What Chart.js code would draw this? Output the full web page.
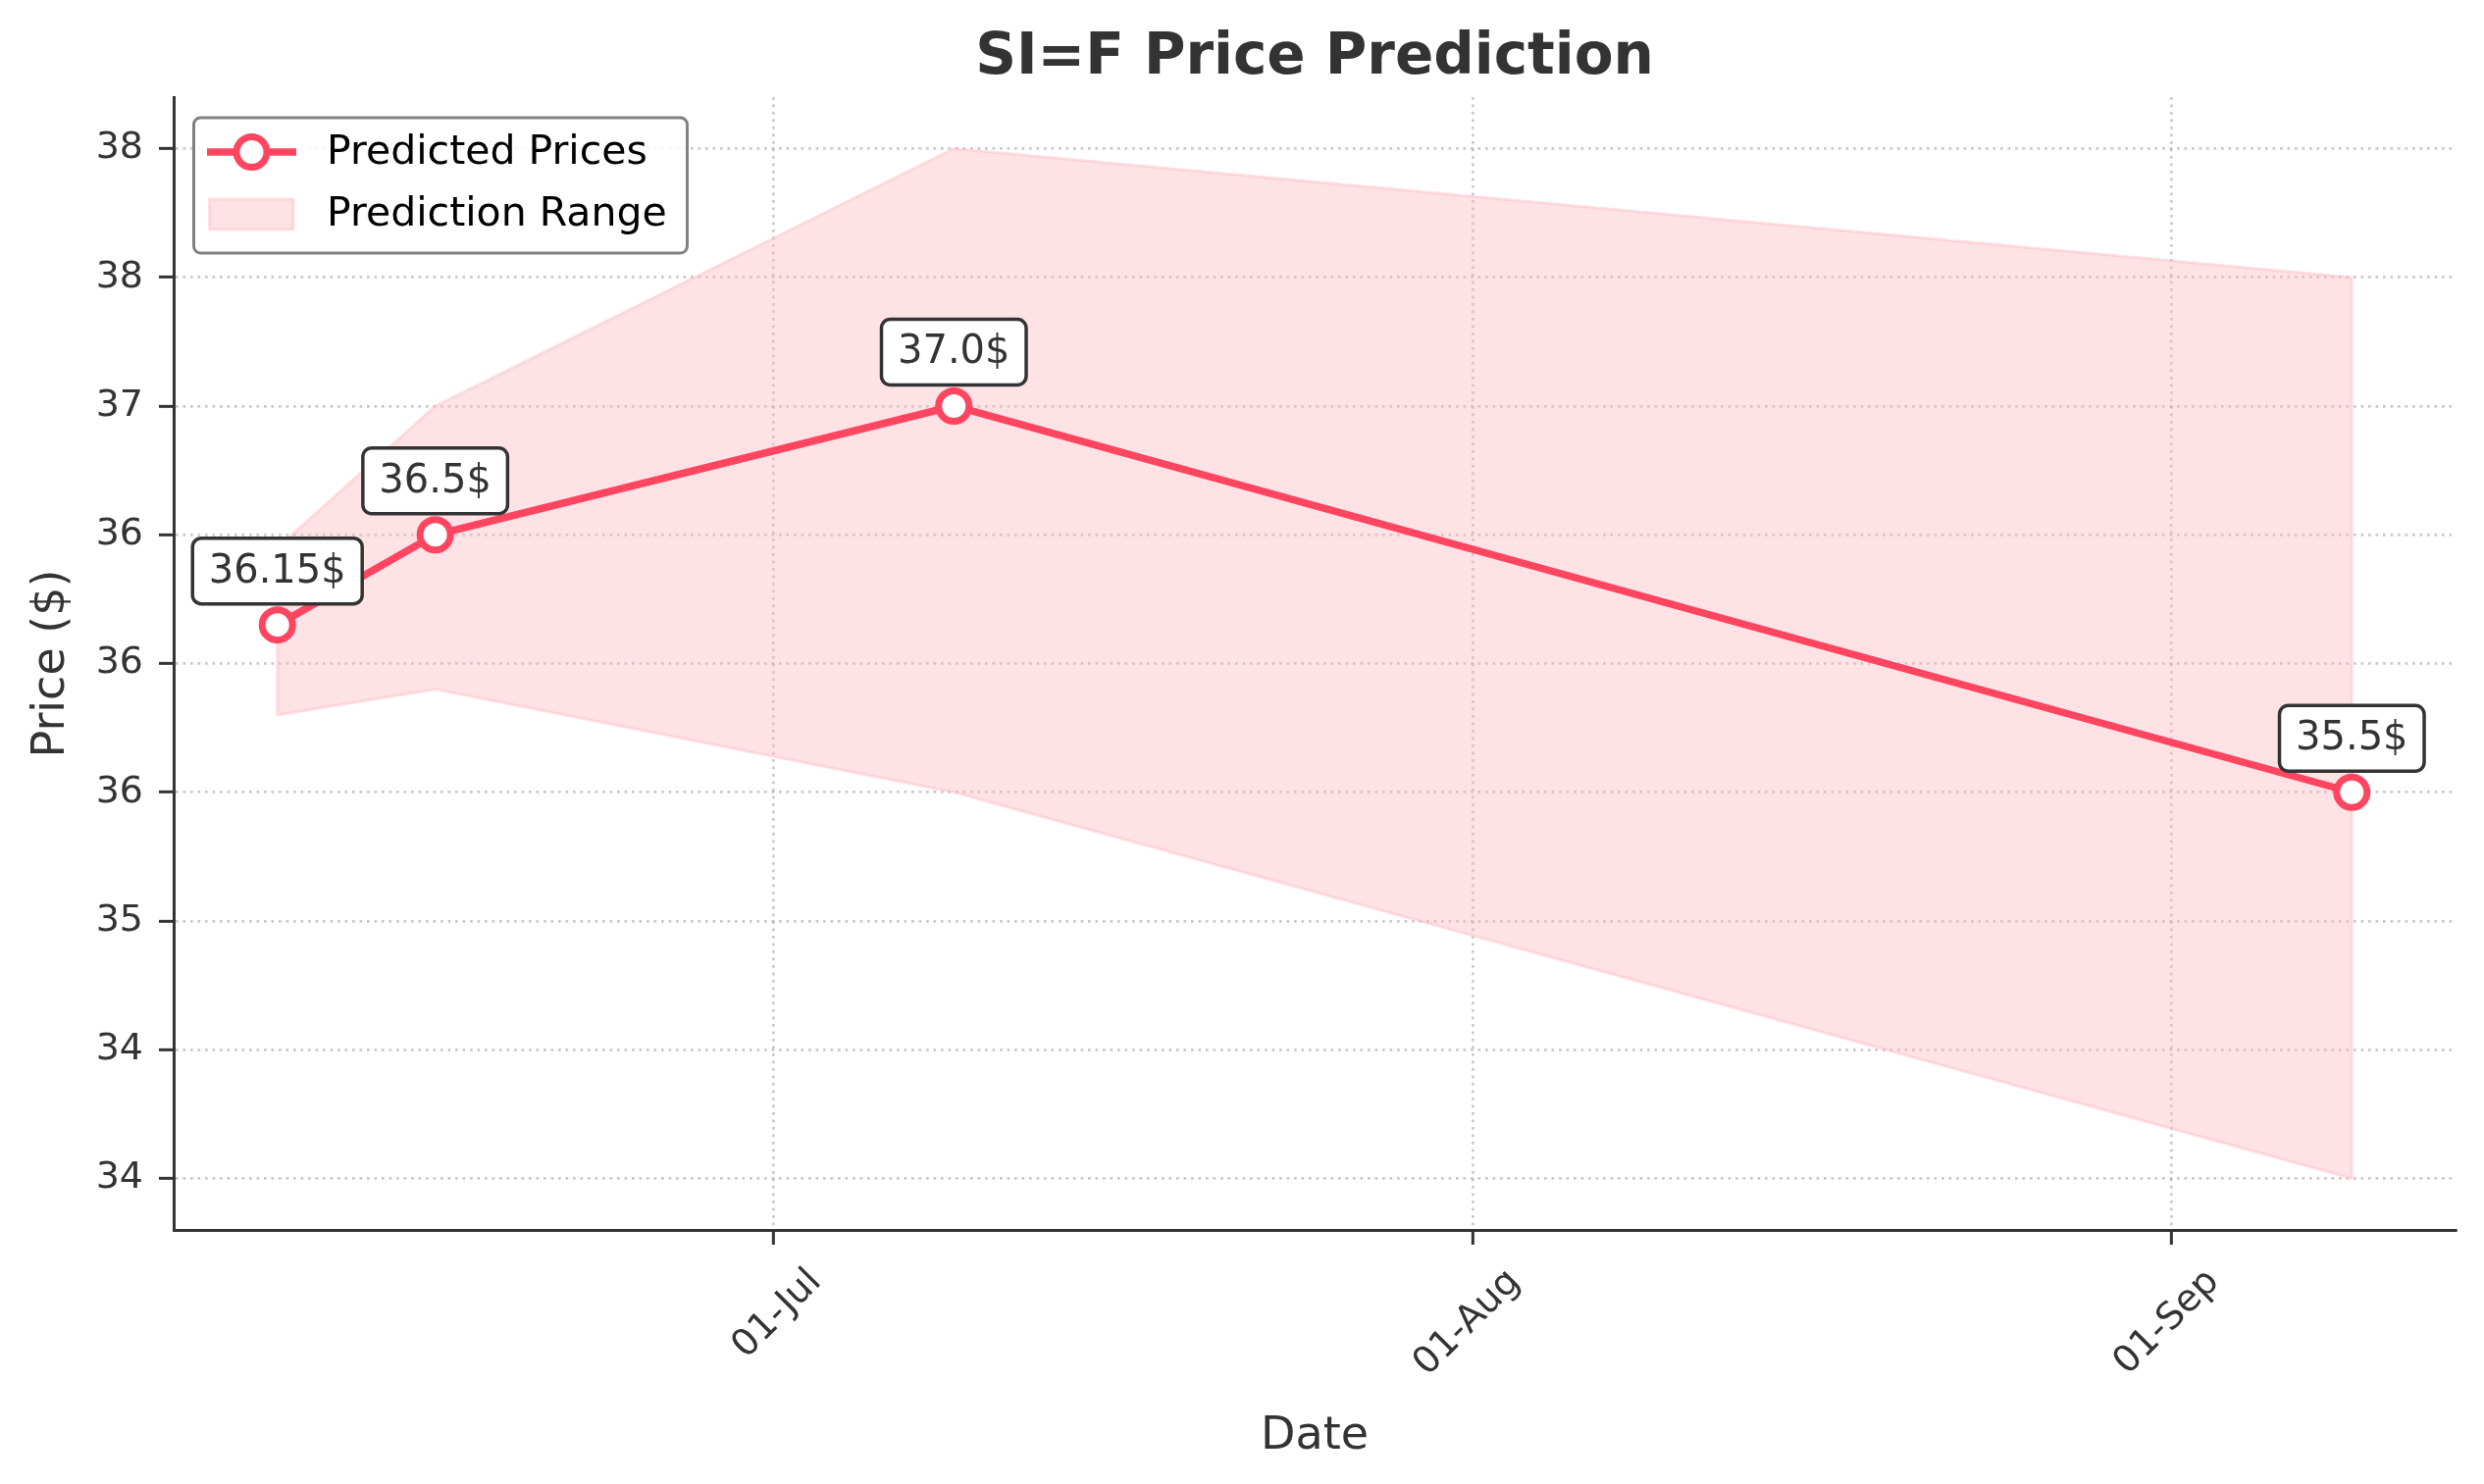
<!DOCTYPE html>
<html><head><meta charset="utf-8">
<script src="https://cdn.jsdelivr.net/npm/chart.js@4.4.0/dist/chart.umd.min.js"></script>
<style>html,body{margin:0;padding:0;background:#fff;overflow:hidden;} canvas{display:block;}</style>
</head><body>
<canvas id="c" width="2532" height="1513"></canvas>
<script>
// ---- data ----
const dates = ['2025-06-09', '2025-06-16', '2025-07-09', '2025-09-09'];
const predicted = [36.15, 36.5, 37.0, 35.5];
const lowerBound = [35.8, 35.9, 35.5, 34.0];
const upperBound = [36.45, 37.0, 38.0, 37.5];
const pointLabels = ['36.15$', '36.5$', '37.0$', '35.5$'];
const xTickDates = ['2025-07-01', '2025-08-01', '2025-09-01'];
const xTickLabels = ['01-Jul', '01-Aug', '01-Sep'];
const yTickValues = [34, 34.5, 35, 35.5, 36, 36.5, 37, 37.5, 38];
const yTickLabels = ['34', '34', '35', '36', '36', '36', '37', '38', '38'];
const seriesNames = ['Predicted Prices', 'Prediction Range'];
const titleText = 'SI=F Price Prediction';
const xTitle = 'Date';
const yTitle = 'Price ($)';

// ---- helpers ----
const DAY = 86400000;
const toDay = s => Date.parse(s + 'T00:00:00Z') / DAY;
const xs = dates.map(toDay);
const FONT = "'DejaVu Sans', 'Liberation Sans', sans-serif";
const RED = '#ff4560';
const BAND = 'rgba(255,182,193,0.4)';
const MARGIN = 0.05;
const xSpan = xs[xs.length - 1] - xs[0];
const yLo = Math.min(...lowerBound), yHi = Math.max(...upperBound);
const ySpan = yHi - yLo;

const linePts = xs.map((x, i) => ({x, y: predicted[i]}));
const bandPts = [];
xs.forEach((x, i) => bandPts.push({x, y: upperBound[i]}));
for (let i = xs.length - 1; i >= 0; i--) bandPts.push({x: xs[i], y: lowerBound[i]});
bandPts.push({x: xs[0], y: upperBound[0]});

function roundRect(ctx, x, y, w, h, r) {
  ctx.beginPath();
  ctx.moveTo(x + r, y);
  ctx.lineTo(x + w - r, y);
  ctx.arcTo(x + w, y, x + w, y + r, r);
  ctx.lineTo(x + w, y + h - r);
  ctx.arcTo(x + w, y + h, x + w - r, y + h, r);
  ctx.lineTo(x + r, y + h);
  ctx.arcTo(x, y + h, x, y + h - r, r);
  ctx.lineTo(x, y + r);
  ctx.arcTo(x, y, x + r, y, r);
  ctx.closePath();
}

const decorPlugin = {
  id: 'decor',
  afterDatasetsDraw(chart) {
    const ctx = chart.ctx;
    const meta = chart.getDatasetMeta(0);
    ctx.save();
    ctx.font = '40px ' + FONT;
    ctx.textAlign = 'center';
    ctx.textBaseline = 'middle';
    meta.data.forEach((pt, i) => {
      const label = pointLabels[i];
      const tw = ctx.measureText(label).width;
      const w = tw + 33, h = 67;
      const cx = pt.x, cy = pt.y - 55;
      roundRect(ctx, cx - w / 2, cy - h / 2, w, h, 9);
      ctx.fillStyle = '#ffffff';
      ctx.fill();
      ctx.lineWidth = 3.5;
      ctx.strokeStyle = '#333333';
      ctx.stroke();
      ctx.fillStyle = '#333333';
      ctx.fillText(label, cx, cy + 1);
    });
    ctx.restore();
  },
  afterDraw(chart) {
    const ctx = chart.ctx;
    const ca = chart.chartArea;
    ctx.save();
    // title
    ctx.font = 'bold 58px ' + FONT;
    ctx.fillStyle = '#333333';
    ctx.textAlign = 'center';
    ctx.textBaseline = 'alphabetic';
    ctx.fillText(titleText, (ca.left + ca.right) / 2, 75);
    // legend
    roundRect(ctx, 197.5, 120, 503, 138, 7);
    ctx.fillStyle = 'rgba(255,255,255,0.85)';
    ctx.fill();
    ctx.lineWidth = 3;
    ctx.strokeStyle = '#808080';
    ctx.stroke();
    // line sample
    ctx.beginPath();
    ctx.moveTo(211, 155); ctx.lineTo(302, 155);
    ctx.lineWidth = 7.5; ctx.strokeStyle = RED; ctx.stroke();
    ctx.beginPath();
    ctx.arc(256.5, 155, 15.5, 0, Math.PI * 2);
    ctx.fillStyle = '#ffffff'; ctx.fill();
    ctx.lineWidth = 7; ctx.strokeStyle = RED; ctx.stroke();
    // patch sample
    ctx.fillStyle = BAND;
    ctx.fillRect(213.5, 203, 85.5, 31);
    ctx.lineWidth = 3; ctx.strokeStyle = BAND;
    ctx.strokeRect(213.5, 203, 85.5, 31);
    // legend text
    ctx.font = '41px ' + FONT;
    ctx.fillStyle = '#000000';
    ctx.textAlign = 'left';
    ctx.textBaseline = 'middle';
    ctx.fillText(seriesNames[0], 333, 156);
    ctx.fillText(seriesNames[1], 333, 219);
    ctx.restore();
  }
};

const gridColor = 'rgba(150,150,150,0.5)';

new Chart(document.getElementById('c'), {
  type: 'line',
  data: {
    datasets: [
      {
        label: seriesNames[0],
        data: linePts,
        borderColor: RED,
        borderWidth: 7.5,
        pointRadius: 15.5,
        pointBorderWidth: 7,
        pointBackgroundColor: '#ffffff',
        pointBorderColor: RED,
        fill: false,
        tension: 0,
        order: 0
      },
      {
        label: seriesNames[1],
        data: bandPts,
        borderColor: BAND,
        backgroundColor: BAND,
        borderWidth: 3,
        pointRadius: 0,
        fill: 'shape',
        tension: 0,
        order: 1
      }
    ]
  },
  options: {
    responsive: false,
    devicePixelRatio: 1,
    animation: false,
    events: [],
    layout: { padding: { top: 99, right: 29, left: 0, bottom: 0 } },
    plugins: { legend: { display: false }, tooltip: { enabled: false }, title: { display: false } },
    scales: {
      x: {
        type: 'linear',
        min: xs[0] - xSpan * MARGIN,
        max: xs[xs.length - 1] + xSpan * MARGIN,
        afterBuildTicks: s => { s.ticks = xTickDates.map(d => ({value: toDay(d)})); },
        afterFit: s => { s.height = 1513 - 1254; },
        ticks: {
          autoSkip: false,
          minRotation: 45, maxRotation: 45,
          labelOffset: 43,
          padding: 16,
          color: '#333333',
          font: { family: FONT, size: 38 },
          callback: (v, i) => xTickLabels[i]
        },
        grid: { color: gridColor, lineWidth: 2.7, drawTicks: true, tickLength: 15, tickColor: '#333333', tickWidth: 3 },
        border: { display: true, color: '#333333', width: 3, dash: [2.7, 4.8] },
        title: { display: true, text: xTitle, color: '#333333', font: { family: FONT, size: 46 }, padding: { top: 0, bottom: 20 } }
      },
      y: {
        type: 'linear',
        min: yLo - ySpan * MARGIN,
        max: yHi + ySpan * MARGIN,
        afterBuildTicks: s => { s.ticks = yTickValues.map(v => ({value: v})); },
        afterFit: s => { s.width = 177; },
        ticks: {
          padding: 16,
          color: '#333333',
          font: { family: FONT, size: 38 },
          callback: (v, i) => yTickLabels[i]
        },
        grid: { color: gridColor, lineWidth: 2.7, drawTicks: true, tickLength: 15, tickColor: '#333333', tickWidth: 3 },
        border: { display: true, color: '#333333', width: 3, dash: [2.7, 4.8] },
        title: { display: true, text: yTitle, color: '#333333', font: { family: FONT, size: 46 }, padding: { top: 25, bottom: 0 } }
      }
    }
  },
  plugins: [decorPlugin]
});
</script>
</body></html>
